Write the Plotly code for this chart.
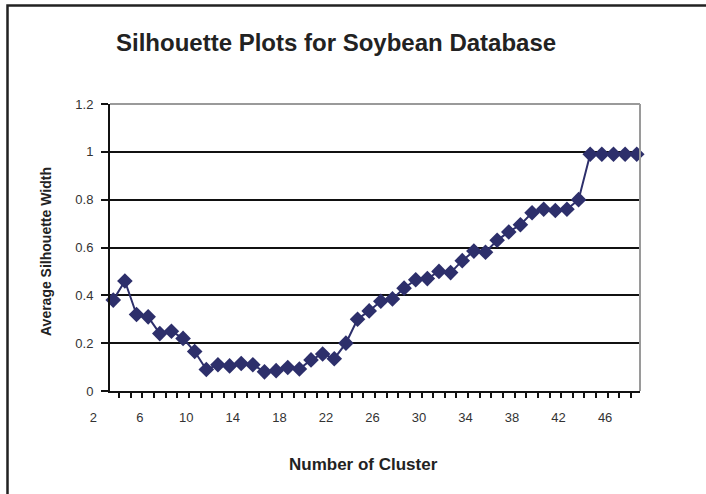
import plotly.graph_objects as go

# Average silhouette width for each number of clusters (Soybean data)
clusters = list(range(2, 48))
avg_silhouette = [
    0.38, 0.46, 0.32, 0.31, 0.24, 0.25, 0.22, 0.165, 0.09, 0.11,
    0.105, 0.115, 0.11, 0.08, 0.085, 0.098, 0.092, 0.13, 0.155, 0.135,
    0.20, 0.30, 0.335, 0.375, 0.385, 0.43, 0.465, 0.47, 0.50, 0.495,
    0.545, 0.585, 0.58, 0.63, 0.665, 0.695, 0.745, 0.76, 0.755, 0.76,
    0.80, 0.99, 0.99, 0.99, 0.99, 0.99,
]
x_tick_vals = list(range(2, 47, 4))
x_tick_text = [str(v) for v in x_tick_vals]
y_tick_vals = [0, 0.2, 0.4, 0.6, 0.8, 1.0, 1.2]
y_tick_text = ["0", "0.2", "0.4", "0.6", "0.8", "1", "1.2"]

FONT = "Liberation Sans, Arial, Helvetica, sans-serif"
NAVY = "#2d2f6b"

fig = go.Figure()
fig.add_trace(go.Scatter(
    x=clusters, y=avg_silhouette, mode="lines+markers",
    line=dict(color=NAVY, width=2),
    marker=dict(symbol="diamond", size=12, color=NAVY,
                line=dict(width=0)),
    showlegend=False, cliponaxis=False,
))

fig.update_layout(
    width=706, height=494,
    margin=dict(l=110, r=66, t=104, b=103),
    paper_bgcolor="white", plot_bgcolor="white",
    font=dict(family=FONT, size=13, color="#333333"),
    xaxis=dict(
        range=[1.72, 47.28], tickvals=x_tick_vals, ticktext=x_tick_text,
        ticks="", showgrid=False, zeroline=False,
        showline=True, linecolor="#111111", linewidth=2,
        ticklabelshift=-20, ticklabelstandoff=13,
        minor=dict(tick0=1.5, dtick=1, ticks="outside", ticklen=5,
                   tickwidth=1.5, tickcolor="#111111", showgrid=False),
        tickfont=dict(size=13, color="#333333"),
    ),
    yaxis=dict(
        range=[0, 1.2], tickvals=y_tick_vals, ticktext=y_tick_text,
        ticks="outside", ticklen=7, tickwidth=1.5, tickcolor="#111111",
        ticklabelstandoff=5,
        showgrid=True, gridcolor="#111111", gridwidth=2,
        zeroline=False, showline=True, linecolor="#111111", linewidth=2,
        tickfont=dict(size=13, color="#333333"),
    ),
)

# Plot frame: grey top and right edges
fig.add_shape(type="line", xref="paper", yref="paper", x0=0, x1=1, y0=1, y1=1,
              line=dict(color="#9a9a9a", width=2))
fig.add_shape(type="line", xref="paper", yref="paper", x0=1, x1=1, y0=0, y1=1,
              line=dict(color="#9a9a9a", width=2))

# Outer chart border (left and top edges fall inside the page)
fig.add_shape(type="rect", xref="paper", yref="paper",
              x0=(7.5 - 110) / 530, x1=2.0, y0=-1.0, y1=(391 - 5.5) / 287,
              line=dict(color="#222222", width=2.5), fillcolor="rgba(0,0,0,0)")

fig.add_annotation(text="<b>Silhouette Plots for Soybean Database</b>",
                   xref="paper", yref="paper",
                   x=(336 - 110) / 530, y=(391 - 42) / 287,
                   xanchor="center", yanchor="middle", showarrow=False,
                   font=dict(family=FONT, size=24, color="#222222"))
fig.add_annotation(text="<b>Average Silhouette Width</b>",
                   xref="paper", yref="paper",
                   x=(46 - 110) / 530, y=(391 - 252) / 287, textangle=-90,
                   xanchor="center", yanchor="middle", showarrow=False,
                   font=dict(family=FONT, size=14, color="#222222"))
fig.add_annotation(text="<b>Number of Cluster</b>",
                   xref="paper", yref="paper",
                   x=(363 - 110) / 530, y=(391 - 464) / 287,
                   xanchor="center", yanchor="middle", showarrow=False,
                   font=dict(family=FONT, size=17, color="#222222"))

fig.write_html("out.html")
